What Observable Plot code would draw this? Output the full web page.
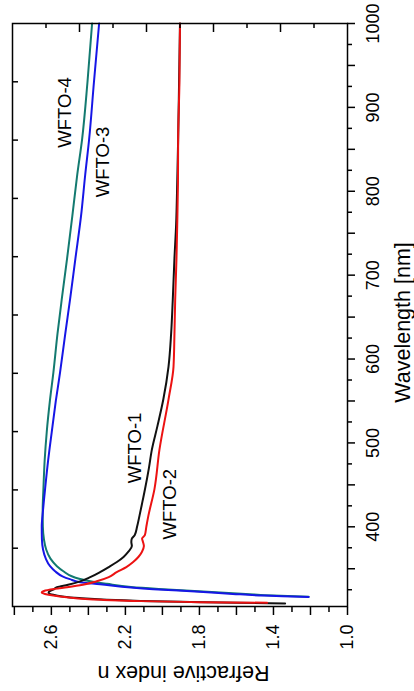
<!DOCTYPE html>
<html>
<head>
<meta charset="utf-8">
<script src="https://cdn.jsdelivr.net/npm/d3@7"></script>
<script src="https://cdn.jsdelivr.net/npm/@observablehq/plot@0.6"></script>
<style>
html, body { margin: 0; padding: 0; background: #fff; }
#wrap { position: relative; width: 414px; height: 691px; overflow: hidden; background: #fff; }
#wrap svg { position: absolute !important; left: 0; top: 0; width: 691px !important; height: 414px !important; max-width: none !important; transform-origin: 0 0; transform: translate(0, 691px) rotate(-90deg); }
</style>
</head>
<body>
<div id="wrap"></div>
<script>
// ---- data (original orientation: x = wavelength, y = refractive index) ----
const seriesNames = ["WFTO-4", "WFTO-3", "WFTO-1", "WFTO-2"];
const seriesColors = ["#137a70", "#1616e6", "#111111", "#ec1212"];

const wfto4Wavelength = [316.6, 318, 320, 323, 326, 328.3, 332, 335, 338, 341, 347, 353, 362, 373, 385, 400, 420, 445, 480, 513, 550, 584, 630, 671, 720, 770, 820, 862, 930, 1000];
const wfto4Index      = [1.21, 1.40, 1.55, 1.78, 2.02, 2.17, 2.30, 2.39, 2.45, 2.49, 2.535, 2.57, 2.605, 2.628, 2.640, 2.646, 2.647, 2.643, 2.636, 2.625, 2.608, 2.589, 2.567, 2.544, 2.515, 2.487, 2.46, 2.434, 2.405, 2.38];

const wfto3Wavelength = [316.4, 317.0, 318, 320, 322.6, 325.6, 327.6, 331.6, 334, 337.6, 341, 347, 353, 362, 373, 385, 400, 420, 445, 480, 513, 550, 584, 630, 671, 720, 770, 820, 862, 930, 1000];
const wfto3Index      = [1.21, 1.30, 1.45, 1.62, 1.80, 2.05, 2.17, 2.337, 2.445, 2.50, 2.54, 2.58, 2.607, 2.63, 2.645, 2.651, 2.652, 2.645, 2.634, 2.617, 2.598, 2.576, 2.553, 2.525, 2.499, 2.47, 2.44, 2.417, 2.396, 2.37, 2.342];

const wfto1Wavelength = [308.6, 309.5, 310.5, 311.7, 313, 315, 317, 319, 321.5, 323, 325, 328, 331, 335, 340, 346, 352, 358, 364, 370, 377, 382, 386, 390, 400, 413, 430, 445, 470, 492, 520, 552, 591, 630, 671, 720, 760, 810, 862, 930, 1000];
const wfto1Index      = [1.337, 1.60, 1.85, 2.12, 2.30, 2.45, 2.54, 2.59, 2.615, 2.61, 2.59, 2.57, 2.51, 2.445, 2.39, 2.337, 2.29, 2.246, 2.21, 2.185, 2.165, 2.168, 2.165, 2.15, 2.137, 2.124, 2.108, 2.094, 2.073, 2.057, 2.027, 1.995, 1.967, 1.953, 1.944, 1.935, 1.926, 1.92, 1.915, 1.91, 1.905];

const wfto2Wavelength = [309.5, 310.2, 311.7, 313, 316, 318, 320, 321.7, 323.5, 326, 328, 331, 335, 340, 346, 352, 358, 364, 370, 377, 382, 386, 390, 400, 413, 445, 492, 552, 591, 630, 671, 720, 760, 810, 862, 930, 1000];
const wfto2Index      = [1.434, 1.80, 2.158, 2.33, 2.517, 2.59, 2.635, 2.652, 2.64, 2.58, 2.515, 2.43, 2.355, 2.29, 2.247, 2.195, 2.158, 2.13, 2.111, 2.10, 2.105, 2.11, 2.095, 2.087, 2.076, 2.043, 2.016, 1.967, 1.94, 1.935, 1.931, 1.924, 1.92, 1.916, 1.915, 1.908, 1.905];

// in-plot series labels (data coordinates)
const labelNames      = ["WFTO-4", "WFTO-3", "WFTO-1", "WFTO-2"];
const labelWavelength = [894, 835, 494, 427];
const labelIndex      = [2.526, 2.323, 2.150, 1.956];

// axes
const wavelengthDomain = [305, 1000];
const indexDomain = [1.0, 2.81];
const wlMajorTicks = [350, 400, 450, 500, 550, 600, 650, 700, 750, 800, 850, 900, 950, 1000];
const wlMinorTicks = [325, 375, 425, 475, 525, 575, 625, 675, 725, 775, 825, 875, 925, 975];
const wlTickLabels = [400, 500, 600, 700, 800, 900, 1000];
const nMajorTicks = [1.0, 1.2, 1.4, 1.6, 1.8, 2.0, 2.2, 2.4, 2.6, 2.8];
const nMinorTicks = [1.1, 1.3, 1.5, 1.7, 1.9, 2.1, 2.3, 2.5, 2.7];
const nTickLabels = [1.0, 1.4, 1.8, 2.2, 2.6];
const xTitle = "Wavelength [nm]";
const yTitle = "Refractive index n";

// ---- build tables ----
const wls = [wfto4Wavelength, wfto3Wavelength, wfto1Wavelength, wfto2Wavelength];
const ns  = [wfto4Index, wfto3Index, wfto1Index, wfto2Index];
const rows = seriesNames.flatMap((name, i) => wls[i].map((w, j) => ({series: name, wl: w, n: ns[i][j]})));
const labels = labelNames.map((name, i) => ({name, wl: labelWavelength[i], n: labelIndex[i]}));

// mirror ticks: ten equal divisions of each domain
const topTicks = d3.range(1, 10).map(k => wavelengthDomain[0] + k * (wavelengthDomain[1] - wavelengthDomain[0]) / 10);
const rightTicks = d3.range(1, 10).map(k => indexDomain[0] + k * (indexDomain[1] - indexDomain[0]) / 10);
const rightLong = rightTicks.filter((d, k) => (k + 1) % 2 === 0);
const rightShort = rightTicks.filter((d, k) => (k + 1) % 2 === 1);

const tickFont = "'Liberation Sans Narrow', 'Arial Narrow', 'Liberation Sans', Arial, sans-serif";
const textFont = "'Liberation Sans', Arial, Helvetica, sans-serif";
const near = (arr, d) => arr.some(v => Math.abs(v - d) < 1e-9);

const chart = Plot.plot({
  width: 691,
  height: 414,
  marginLeft: 84,
  marginRight: 24,
  marginTop: 12,
  marginBottom: 67,
  x: {domain: wavelengthDomain},
  y: {domain: indexDomain},
  style: {fontFamily: tickFont, fontSize: "18px", color: "#000", background: "#fff", overflow: "visible"},
  marks: [
    ...seriesNames.map((name, i) =>
      Plot.line(rows.filter(r => r.series === name), {x: "wl", y: "n", stroke: seriesColors[i], strokeWidth: 2, curve: "monotone-x"})
    ),
    Plot.axisX({ticks: wlMajorTicks, tickSize: 8, tickPadding: 11, strokeWidth: 1.5, label: null,
      tickFormat: d => near(wlTickLabels, d) ? String(d) : ""}),
    Plot.axisX({ticks: wlMinorTicks, tickSize: 5, strokeWidth: 1.5, label: null, tickFormat: () => ""}),
    Plot.axisY({ticks: nMajorTicks, tickSize: 8, tickPadding: 10, strokeWidth: 1.5, label: null,
      tickFormat: d => near(nTickLabels, d) ? d.toFixed(1) : ""}),
    Plot.axisY({ticks: nMinorTicks, tickSize: 5, strokeWidth: 1.5, label: null, tickFormat: () => ""}),
    Plot.axisX({anchor: "top", ticks: topTicks, tickSize: -5, strokeWidth: 1.5, label: null, tickFormat: () => ""}),
    Plot.axisY({anchor: "right", ticks: rightLong, tickSize: -9, strokeWidth: 1.5, label: null, tickFormat: () => ""}),
    Plot.axisY({anchor: "right", ticks: rightShort, tickSize: -5, strokeWidth: 1.5, label: null, tickFormat: () => ""}),
    Plot.frame({stroke: "#000", strokeWidth: 1.5}),
    Plot.text(labels, {x: "wl", y: "n", text: "name", fontFamily: textFont, fontSize: 18.5, fill: "#000", textAnchor: "middle", lineAnchor: "middle"}),
    Plot.text([xTitle], {frameAnchor: "bottom", dx: -7.5, dy: 62, lineAnchor: "bottom", textAnchor: "middle", fontFamily: textFont, fontSize: 21.5, fill: "#000"}),
    Plot.text([yTitle], {frameAnchor: "left", dx: -75, dy: 3.5, rotate: -90, lineAnchor: "top", textAnchor: "middle", fontFamily: textFont, fontSize: 21.5, fill: "#000"})
  ]
});
document.getElementById("wrap").appendChild(chart);
</script>
</body>
</html>
